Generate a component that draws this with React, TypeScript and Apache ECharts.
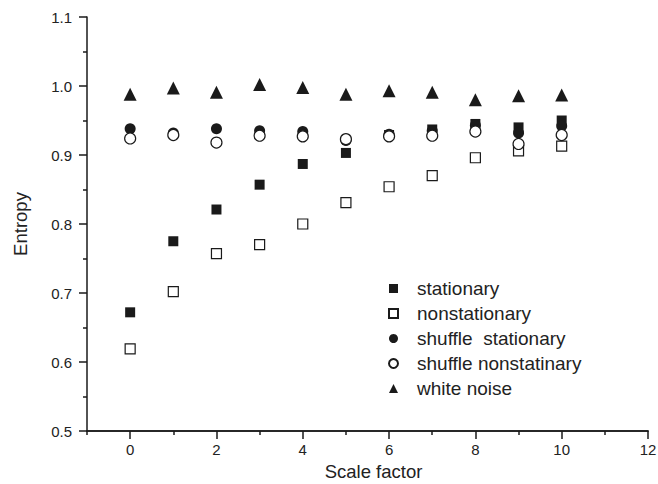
import React, { useEffect, useRef } from "react";
import * as echarts from "echarts";

const scaleFactors = [0, 1, 2, 3, 4, 5, 6, 7, 8, 9, 10];
const stationary = [0.672, 0.775, 0.821, 0.857, 0.887, 0.903, 0.929, 0.937, 0.945, 0.94, 0.95];
const nonstationary = [0.619, 0.702, 0.757, 0.77, 0.8, 0.831, 0.854, 0.87, 0.896, 0.906, 0.913];
const shuffleStationary = [0.938, 0.932, 0.938, 0.935, 0.934, 0.921, 0.93, 0.935, 0.943, 0.932, 0.942];
const shuffleNonstationary = [0.924, 0.929, 0.918, 0.928, 0.927, 0.923, 0.927, 0.928, 0.934, 0.916, 0.929];
const whiteNoise = [0.988, 0.997, 0.991, 1.002, 0.998, 0.988, 0.993, 0.991, 0.98, 0.986, 0.987];

const xMajorTicks = [0, 2, 4, 6, 8, 10, 12];
const xMinorTicks = [-1, 1, 3, 5, 7, 9, 11];

const FONT = "Liberation Sans";
const INK = "#1a1a1a";
const TEXT = "#222222";

const pair = (ys: number[]) => scaleFactors.map((x, i) => [x, ys[i]]);

export default function App() {
  const ref = useRef<HTMLDivElement>(null);
  useEffect(() => {
    if (!ref.current) return;
    const chart = echarts.init(ref.current, undefined, { renderer: "svg" });
    const filled = { color: INK, opacity: 1 };
    const hollow = { color: "#ffffff", borderColor: INK, borderWidth: 1.2, opacity: 1 };
    const axisLine = { show: true, onZero: false, lineStyle: { color: INK, width: 1.5 } };
    chart.setOption({
      animation: false,
      backgroundColor: "#ffffff",
      grid: { left: 87, right: 10, top: 17, bottom: 53, outerBoundsMode: "none", containLabel: false },
      xAxis: [
        {
          type: "value",
          min: -1,
          max: 12,
          splitLine: { show: false },
          axisLine,
          axisTick: { show: true, length: 8, customValues: xMajorTicks, lineStyle: { color: INK, width: 1.5 } },
          axisLabel: {
            customValues: xMajorTicks,
            margin: 11,
            fontFamily: FONT,
            fontSize: 15,
            color: TEXT,
          },
          name: "Scale factor",
          nameLocation: "middle",
          nameGap: 30,
          nameTextStyle: { fontFamily: FONT, fontSize: 18.5, color: TEXT, lineHeight: 20, padding: [0, 0, 0, 12] },
        },
        {
          type: "value",
          min: -1,
          max: 12,
          position: "bottom",
          splitLine: { show: false },
          axisLine,
          axisTick: { show: true, length: 4, customValues: xMinorTicks, lineStyle: { color: INK, width: 1.5 } },
          axisLabel: { show: false },
        },
      ],
      yAxis: {
        type: "value",
        min: 0.5,
        max: 1.1,
        interval: 0.1,
        splitLine: { show: false },
        axisLine,
        axisTick: { show: true, length: 8, lineStyle: { color: INK, width: 1.5 } },
        minorTick: { show: true, splitNumber: 2, length: 4, lineStyle: { color: INK, width: 1.5 } },
        axisLabel: {
          margin: 15,
          fontFamily: FONT,
          fontSize: 15,
          color: TEXT,
          formatter: (v: number) => v.toFixed(1),
        },
        name: "Entropy",
        nameLocation: "middle",
        nameGap: 57,
        nameTextStyle: { fontFamily: FONT, fontSize: 18.5, color: TEXT },
      },
      legend: {
        orient: "vertical",
        left: 383,
        top: 274,
        itemWidth: 9,
        itemHeight: 9,
        itemGap: 6,
        textStyle: { fontFamily: FONT, fontSize: 19, color: TEXT, lineHeight: 19, padding: [0, 0, 0, 14] },
        data: [
          "stationary",
          "nonstationary",
          "shuffle  stationary",
          "shuffle nonstatinary",
          "white noise",
        ],
      },
      series: [
        { name: "stationary", type: "scatter", symbol: "rect", symbolSize: 10, itemStyle: filled, data: pair(stationary) },
        { name: "nonstationary", type: "scatter", symbol: "rect", symbolSize: 10, itemStyle: hollow, data: pair(nonstationary) },
        { name: "shuffle  stationary", type: "scatter", symbol: "circle", symbolSize: 11, itemStyle: filled, data: pair(shuffleStationary) },
        { name: "shuffle nonstatinary", type: "scatter", symbol: "circle", symbolSize: 11, itemStyle: hollow, data: pair(shuffleNonstationary) },
        { name: "white noise", type: "scatter", symbol: "triangle", symbolSize: 13, itemStyle: filled, data: pair(whiteNoise) },
      ],
    });
    return () => chart.dispose();
  }, []);
  return (
    <div
      ref={ref}
      style={{ position: "fixed", left: 0, top: 0, width: 658, height: 484, background: "#fff" }}
    />
  );
}
